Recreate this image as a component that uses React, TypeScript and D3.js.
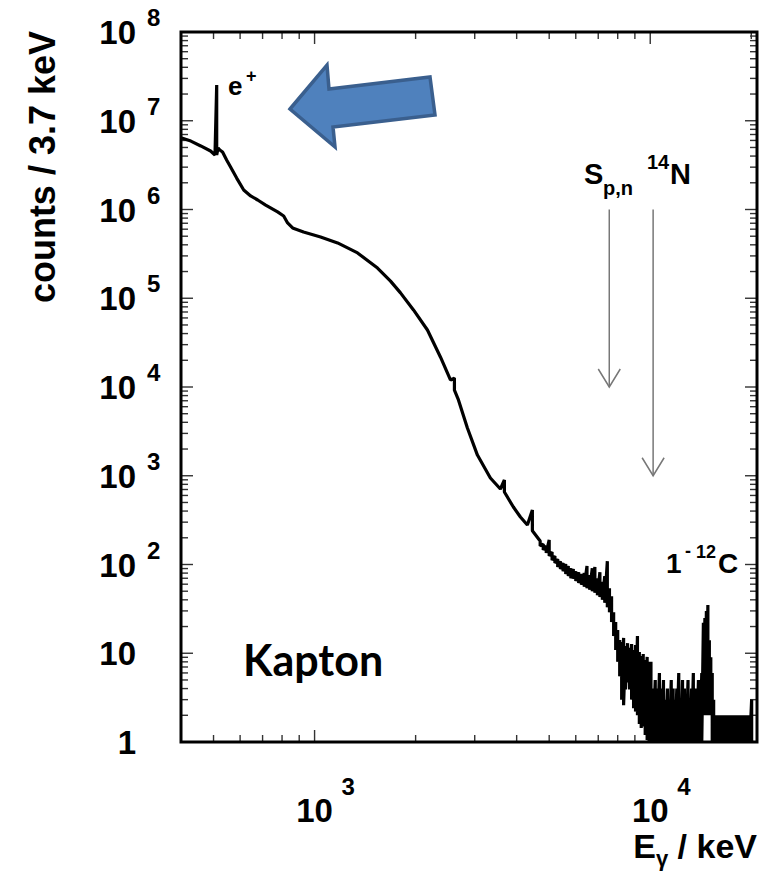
import React from "react";
import * as d3 from "d3";

// Kapton gamma spectrum.
// For each energy step the upper and lower count seen in the drawn trace
// (equal where the trace is a single line, apart where it is noisy).
const energyKeV = [
  // smooth part
  402, 428, 458, 490, 505, 511, 516, 522, 532, 547, 562, 586, 615, 645, 677, 715,
  776, 809, 831, 860, 927, 1042, 1171, 1343, 1540, 1684, 1803, 1971, 2169, 2371,
  2540, 2610, 2683, 2853, 3056, 3340, 3578, 3677, 3911, 4104, 4305, 4455,
  // noisy shoulder
  4700, 4800, 4900, 5000, 5100, 5200, 5300, 5400, 5500, 5600, 5700, 5800, 5900,
  6000, 6120, 6240, 6360, 6480, 6600, 6720, 6840, 6960, 7080, 7200, 7320, 7450,
  // steep drop
  7560, 7670, 7780, 7890, 8000, 8110, 8220, 8330, 8440, 8560, 8680, 8800, 8920,
  9040, 9160, 9280, 9400, 9530, 9660, 9790, 9920,
  // low counts
  10050, 10200, 10350, 10500, 10650, 10800, 10950, 11100, 11250, 11400, 11550,
  11700, 11850, 12000, 12160, 12320, 12480, 12640, 12800, 12960, 13120, 13280,
  13440, 13600, 13760, 13920, 14080, 14240,
  // 15.1 MeV line of 12C
  14400, 14550, 14700, 14850, 15000, 15150, 15300, 15450,
  // tail
  15650, 15870, 16090, 16310, 16530, 16750, 16970, 17200, 17430, 17660, 17890,
  18120, 18360, 18600, 18840, 19080, 19320, 19560, 19800, 20050, 20300,
];
const countsHigh = [
  6.4e6, 5.9e6, 5.2e6, 4.56e6, 4.11e6, 2.53e7, 4.93e6, 4.68e6, 4.44e6, 3.61e6, 3.01e6,
  2.26e6, 1.66e6, 1.42e6, 1.28e6, 1.12e6, 9.4e5, 8.45e5, 7.05e5, 6.19e5, 5.57e5,
  4.9e5, 4.2e5, 3.24e5, 2.19e5, 1.56e5, 1.15e5, 7.38e4, 4.39e4, 2.18e4, 1.2e4,
  1.26e4, 7.14e3, 3.45e3, 1.71e3, 944, 709, 896, 444, 343, 279, 411,

  184, 170, 162, 189, 138, 125, 115, 109, 104, 101, 96, 91, 89,
  84, 82, 78, 80, 96, 76, 91, 94, 70, 82, 64, 74, 109,

  54, 44, 29, 22.5, 18.3, 14.1, 13.4, 14.9, 12.1, 13, 11.5, 12.7, 10.9,
  12.4, 15.6, 10.3, 9.3, 9.8, 8.4, 9.1, 8,

  8, 4, 5, 4, 6, 4, 5, 3, 4, 3, 5,
  4, 3, 4, 6, 3, 5, 4, 3, 5, 3, 4,
  6, 4, 3, 5, 4, 6,

  22, 25, 30, 35, 14, 9, 6, 3,

  2, 2, 2, 2, 2, 2, 2, 2, 2, 2, 2,
  2, 2, 2, 2, 2, 2, 2, 1.05, 3, 1,
];
const countsLow = [
  6.4e6, 5.9e6, 5.2e6, 4.56e6, 4.11e6, 4.11e6, 4.93e6, 4.68e6, 4.44e6, 3.61e6, 3.01e6,
  2.26e6, 1.66e6, 1.42e6, 1.28e6, 1.12e6, 9.4e5, 8.45e5, 7.05e5, 6.19e5, 5.57e5,
  4.9e5, 4.2e5, 3.24e5, 2.19e5, 1.56e5, 1.15e5, 7.38e4, 4.39e4, 2.18e4, 1.2e4,
  9.2e3, 7.14e3, 3.45e3, 1.71e3, 944, 709, 656, 444, 343, 279, 240,

  162, 146, 135, 125, 112, 104, 94, 89, 84, 78, 74, 70, 69,
  65, 62, 59, 56, 54, 52, 50, 48, 45, 43, 40, 37, 33,

  29, 22.5, 15.6, 10.9, 8, 5.5, 3, 2.6, 3.9, 4.7, 3.9, 3, 2.4,
  2.2, 2, 1.6, 1.44, 1.5, 1.2, 1.05, 1,

  1, 1, 1, 1, 1, 1, 1, 1, 1, 1, 1,
  1, 1, 1, 1, 1, 1, 1, 1, 1, 1, 1,
  1, 1, 1, 1, 1, 1,

  2, 2, 2, 2, 2, 2, 1, 1,

  1, 1, 1, 1, 1, 1, 1, 1, 1, 1, 1,
  1, 1, 1, 1, 1, 1, 1, 1, 1, 1,
];

const yExponents = [0, 1, 2, 3, 4, 5, 6, 7, 8];
const xExponents = [3, 4];

// separation energy markers (keV), drawn from / to in counts
const markerEnergy = [7550, 10200];
const markerFrom = [1e6, 1e6];
const markerTo = [1e4, 1e3];

const W = 769;
const H = 873;
const M = { left: 181, right: 757, top: 32, bottom: 742 };
const HELV = "'Liberation Sans', Arial, Helvetica, sans-serif";

export default function App() {
  const x = d3.scaleLog().domain([400, 20800]).range([M.left, M.right]);
  const y = d3.scaleLog().domain([1, 1e8]).range([M.bottom, M.top]);

  const trace = energyKeV
    .map((e, i) => {
      const px = x(e).toFixed(2);
      return `${i ? "L" : "M"}${px},${y(countsHigh[i]).toFixed(2)}L${px},${y(countsLow[i]).toFixed(2)}`;
    })
    .join("");

  const yTicks: { v: number; major: boolean }[] = [];
  for (let k = 0; k < 8; k++)
    for (let m = 1; m < 10; m++) yTicks.push({ v: m * 10 ** k, major: m === 1 });
  yTicks.push({ v: 1e8, major: true });

  const xTicks = x.ticks().map((v) => ({
    v,
    major: Math.abs(Math.log10(v) - Math.round(Math.log10(v))) < 1e-9,
  }));

  const tickLen = (major: boolean) => (major ? 12 : 7);

  return (
    <svg
      width={W}
      height={H}
      style={{ position: "absolute", left: 0, top: 0, background: "#fff" }}
      fontFamily={HELV}
      fontWeight="bold"
    >
      <defs>
        <clipPath id="plot">
          <rect x={M.left} y={M.top - 2} width={M.right - M.left} height={M.bottom - M.top + 2} />
        </clipPath>
      </defs>

      {/* ticks */}
      <g stroke="#333" strokeWidth={1.4}>
        {yTicks.map((t, i) => (
          <g key={"y" + i}>
            <line x1={M.left} x2={M.left + tickLen(t.major)} y1={y(t.v)} y2={y(t.v)} />
            <line x1={M.right} x2={M.right - tickLen(t.major)} y1={y(t.v)} y2={y(t.v)} />
          </g>
        ))}
        {xTicks.map((t, i) => (
          <g key={"x" + i}>
            <line x1={x(t.v)} x2={x(t.v)} y1={M.bottom} y2={M.bottom - tickLen(t.major)} />
            <line x1={x(t.v)} x2={x(t.v)} y1={M.top} y2={M.top + tickLen(t.major)} />
          </g>
        ))}
      </g>

      {/* spectrum */}
      <path
        d={trace}
        fill="none"
        stroke="#000"
        strokeWidth={3.2}
        strokeLinejoin="bevel"
        clipPath="url(#plot)"
      />

      {/* frame */}
      <rect
        x={M.left}
        y={M.top}
        width={M.right - M.left}
        height={M.bottom - M.top}
        fill="none"
        stroke="#000"
        strokeWidth={3}
      />

      {/* y tick labels */}
      {yExponents.map((k) => {
        const ty = y(10 ** k);
        return (
          <g key={"yl" + k}>
            <text x={136} y={ty + 12} fontSize={33} textAnchor="end">
              {k === 0 ? "1" : "10"}
            </text>
            {k > 1 && (
              <text x={147} y={ty - 6} fontSize={24}>
                {k}
              </text>
            )}
          </g>
        );
      })}

      {/* x tick labels */}
      {xExponents.map((k) => {
        const tx = x(10 ** k);
        return (
          <g key={"xl" + k}>
            <text x={tx} y={822} fontSize={33} textAnchor="middle">
              10
            </text>
            <text x={tx + 27} y={795} fontSize={24}>
              {k}
            </text>
          </g>
        );
      })}

      {/* axis titles */}
      <text x={757} y={858} fontSize={34} textAnchor="end">
        E
        <tspan fontSize={22} dy={8}>
          γ
        </tspan>
        <tspan dy={-8}> / keV</tspan>
      </text>
      <text
        transform={`translate(55,${M.top - 1}) rotate(-90)`}
        fontSize={36}
        textAnchor="end"
      >
        counts / 3.7 keV
      </text>

      {/* separation energy arrows */}
      <g stroke="#777" strokeWidth={1.5} fill="none">
        {markerEnergy.map((e, i) => {
          const mx = x(e);
          const y0 = y(markerFrom[i]);
          const y1 = y(markerTo[i]);
          return (
            <g key={"m" + i}>
              <line x1={mx} x2={mx} y1={y0} y2={y1} />
              <path d={`M${mx - 11},${y1 - 18}L${mx},${y1}L${mx + 11},${y1 - 18}`} />
            </g>
          );
        })}
      </g>

      {/* annotations */}
      <text x={584} y={184} fontSize={29}>
        S
      </text>
      <text x={603} y={195} fontSize={20}>
        p,n
      </text>
      <text x={647} y={169} fontSize={20}>
        14
      </text>
      <text x={670} y={184} fontSize={29}>
        N
      </text>

      <text x={228} y={95} fontSize={26}>
        e
      </text>
      <text x={246} y={82} fontSize={18}>
        +
      </text>

      <text x={666} y={573} fontSize={28}>
        1
      </text>
      <text x={685} y={557} fontSize={18}>
        -
      </text>
      <text x={696} y={558} fontSize={18}>
        12
      </text>
      <text x={718} y={573} fontSize={28}>
        C
      </text>

      <text x={243} y={676} fontSize={43} fontFamily="Lato, 'Open Sans', sans-serif">
        Kapton
      </text>

      {/* block arrow pointing at the annihilation peak */}
      <polygon
        points="290,109 327,65 329,89 430,77 435,115 333,127 335,147"
        fill="#4F81BD"
        stroke="#3A5F8E"
        strokeWidth={3.5}
        strokeLinejoin="miter"
      />
    </svg>
  );
}
